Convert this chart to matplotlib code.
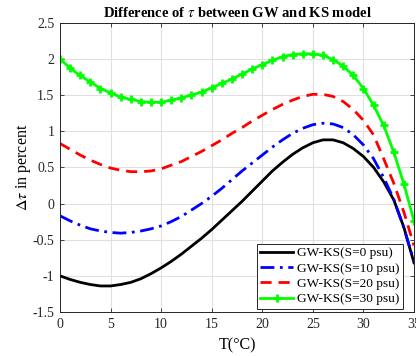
import matplotlib
matplotlib.use('Agg')
import numpy as np
import matplotlib.pyplot as plt
from matplotlib.ticker import FuncFormatter

# --- Data (1 degC steps) ---
T = list(range(0, 36))

dtau_s0 = [-1.00, -1.05, -1.09, -1.12, -1.14, -1.14, -1.12, -1.09, -1.04, -0.97,
           -0.89, -0.80, -0.70, -0.59, -0.48, -0.36, -0.23, -0.10, 0.03, 0.17,
           0.31, 0.45, 0.57, 0.68, 0.77, 0.84, 0.88, 0.88, 0.84, 0.76,
           0.65, 0.50, 0.30, 0.05, -0.33, -0.82]

dtau_s10 = [-0.17, -0.24, -0.30, -0.35, -0.38, -0.40, -0.41, -0.40, -0.38, -0.35,
            -0.31, -0.25, -0.18, -0.09, 0.00, 0.10, 0.21, 0.33, 0.45, 0.56,
            0.67, 0.78, 0.88, 0.97, 1.04, 1.09, 1.11, 1.10, 1.05, 0.95,
            0.81, 0.62, 0.36, 0.06, -0.34, -0.80]

dtau_s20 = [0.83, 0.75, 0.67, 0.60, 0.54, 0.49, 0.46, 0.44, 0.44, 0.45,
            0.48, 0.53, 0.58, 0.65, 0.72, 0.80, 0.88, 0.97, 1.05, 1.14,
            1.22, 1.30, 1.37, 1.43, 1.48, 1.51, 1.51, 1.48, 1.41, 1.30,
            1.15, 0.95, 0.62, 0.28, -0.12, -0.58]

dtau_s30 = [2.00, 1.87, 1.77, 1.68, 1.59, 1.53, 1.47, 1.44, 1.41, 1.40,
            1.40, 1.43, 1.46, 1.50, 1.54, 1.60, 1.66, 1.72, 1.79, 1.86,
            1.92, 1.98, 2.03, 2.06, 2.07, 2.07, 2.05, 1.99, 1.90, 1.77,
            1.59, 1.36, 1.08, 0.71, 0.27, -0.24]

labels = ['GW-KS(S=0 psu)', 'GW-KS(S=10 psu)', 'GW-KS(S=20 psu)', 'GW-KS(S=30 psu)']

x_ticks = [0, 5, 10, 15, 20, 25, 30, 35]
y_ticks = [-1.5, -1, -0.5, 0, 0.5, 1, 1.5, 2, 2.5]

# --- Style ---
plt.rcParams['font.family'] = ['Liberation Serif', 'DejaVu Serif']
plt.rcParams['mathtext.fontset'] = 'stix'

fig = plt.figure(figsize=(4.16, 3.56), dpi=100)
ax = fig.add_axes([60 / 416, 1 - 312 / 356, (414 - 60) / 416, (312 - 22.7) / 356])

ax.plot(T, dtau_s0, color='black', linewidth=2.0, linestyle='-', label=labels[0])
ax.plot(T, dtau_s10, color='blue', linewidth=2.0, linestyle=(0, (5, 2, 1, 2)), label=labels[1])
ax.plot(T, dtau_s20, color='red', linewidth=2.0, linestyle=(0, (4, 2.5)), label=labels[2])
ax.plot(T, dtau_s30, color=(0, 1, 0), linewidth=2.0, linestyle='-', marker='+',
        markersize=6, markeredgewidth=2.0, label=labels[3])

ax.set_xlim(0, 35)
ax.set_ylim(-1.5, 2.5)
ax.set_xticks(x_ticks)
ax.set_yticks(y_ticks)
ax.yaxis.set_major_formatter(FuncFormatter(lambda v, p: '%g' % v))
ax.xaxis.set_major_formatter(FuncFormatter(lambda v, p: '%g' % v))

ax.grid(True, color='0.88', linewidth=0.8)
ax.set_axisbelow(True)
ax.tick_params(direction='in', top=True, right=True, labelsize=10,
               colors='0.15', length=3, width=0.6, pad=4)
for sp in ax.spines.values():
    sp.set_color('0.15')
    sp.set_linewidth(0.7)

ax.set_title(r'Difference of $\tau$ between GW and KS model', fontsize=10.5,
             fontweight='bold', pad=4)
ax.set_xlabel('T(°C)', fontsize=11.5, labelpad=5)
ax.set_ylabel(r'$\Delta\tau$ in percent', fontsize=11.5, labelpad=0)

leg = ax.legend(loc='lower right', fontsize=9.6, handlelength=2.5,
                labelspacing=0.22, borderpad=0.25, handletextpad=0.3,
                borderaxespad=0.15, framealpha=1, fancybox=False,
                bbox_to_anchor=(0.975, 0.005))
leg.get_frame().set_edgecolor('0.15')
leg.get_frame().set_linewidth(0.7)

fig.savefig('out.png', dpi=100)
